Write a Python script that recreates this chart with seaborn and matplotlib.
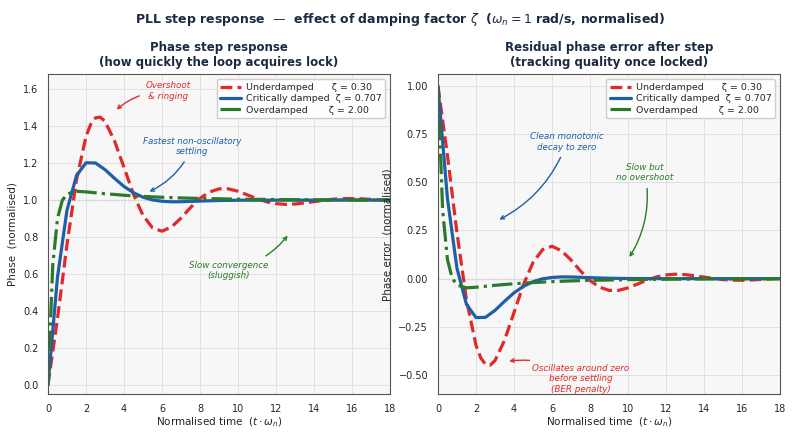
import numpy as np
import pandas as pd
import matplotlib
matplotlib.use("Agg")
import matplotlib.pyplot as plt
import seaborn as sns

# time grids
t_ud = [0,0.5,1,1.5,2,2.25,2.5,2.75,3,3.5,4,4.5,5,5.5,6,6.5,7,7.5,8,8.5,9,9.5,10,10.5,11,11.5,12,12.5,13,13.5,14,14.5,15,15.5,16,16.5,17,17.5,18]
err_ud = [1,0.640,0.239,-0.110,-0.345,-0.411,-0.445,-0.449,-0.426,-0.321,-0.177,-0.031,0.083,0.150,0.168,0.145,0.097,0.040,-0.010,-0.044,-0.061,-0.061,-0.048,-0.028,-0.008,0.009,0.019,0.023,0.021,0.015,0.008,0.001,-0.005,-0.008,-0.0085,-0.007,-0.004,-0.0015,0.001]
t_cd = [0,0.5,1,1.5,2,2.5,3,3.5,4,4.5,5,5.5,6,6.5,7,7.5,8,9,10,12,14,16,18]
err_cd = [1,0.416,0.054,-0.133,-0.202,-0.201,-0.165,-0.118,-0.074,-0.040,-0.016,-0.001,0.006,0.009,0.0086,0.0069,0.0049,0.002,0.0005,0,0,0,0]
t_od = [0,0.25,0.5,0.75,1,1.5,2,3,4,5,6,7,8,10,12,14,16,18]
err_od = [1,0.351,0.099,0.002,-0.0334,-0.0478,-0.0447,-0.0347,-0.0265,-0.0203,-0.0155,-0.0119,-0.0091,-0.0053,-0.0031,-0.0018,-0.0011,-0.0006]

labels = ["Underdamped      ζ = 0.30", "Critically damped  ζ = 0.707", "Overdamped       ζ = 2.00"]
colors = ["#e02a2a", "#1f5fa8", "#2a7a2a"]
styles = ["--", "-", "-."]
series = [(t_ud, err_ud), (t_cd, err_cd), (t_od, err_od)]

sns.set_theme(style="whitegrid")
plt.rcParams['font.family'] = ['DejaVu Sans']

fig, axes = plt.subplots(1, 2, figsize=(8, 4.38), dpi=100)
for ax in axes:
    ax.set_facecolor("#f7f7f7")
    ax.grid(color="#dddddd", lw=0.6)
    for s in ax.spines.values():
        s.set_color("#555555"); s.set_linewidth(0.8)

for (t, e), lab, c, ls in zip(series, labels, colors, styles):
    e = np.array(e)
    sns.lineplot(x=t, y=1 - e, ax=axes[0], color=c, ls=ls, lw=2.3, label=lab)
    sns.lineplot(x=t, y=e, ax=axes[1], color=c, ls=ls, lw=2.3, label=lab)

axes[0].axhline(1, color="#888888", ls=":", lw=0.9, zorder=0)
axes[1].axhline(0, color="#888888", ls=":", lw=0.9, zorder=0)

ax = axes[0]
ax.set_xlim(0, 18); ax.set_ylim(-0.05, 1.68)
ax.set_xticks(range(0, 19, 2)); ax.set_yticks(np.arange(0, 1.61, 0.2))
ax.set_title("Phase step response\n(how quickly the loop acquires lock)", fontsize=8.5, fontweight="bold", color="#1a2a40")
ax.set_ylabel("Phase  (normalised)", fontsize=7.5)
ax = axes[1]
ax.set_xlim(0, 18); ax.set_ylim(-0.6, 1.06)
ax.set_xticks(range(0, 19, 2)); ax.set_yticks(np.arange(-0.5, 1.01, 0.25))
ax.set_title("Residual phase error after step\n(tracking quality once locked)", fontsize=8.5, fontweight="bold", color="#1a2a40")
ax.set_ylabel("Phase error  (normalised)", fontsize=7.5)

for ax in axes:
    ax.set_xlabel(r"Normalised time  $(t\cdot\omega_n)$", fontsize=7.5, labelpad=1)
    ax.tick_params(labelsize=7, pad=1)
    ax.legend(loc="upper right", fontsize=6.8, frameon=True, framealpha=0.95, edgecolor="#cccccc",
              handlelength=2.2, borderpad=0.4, labelspacing=0.25, handletextpad=0.5)

def ann(ax, txt, xy, xyt, c, rad=0.2):
    ax.annotate(txt, xy=xy, xytext=xyt, fontsize=6.3, style="italic", color=c, ha="center", va="center",
                arrowprops=dict(arrowstyle="->", color=c, lw=1, connectionstyle=f"arc3,rad={rad}"))

ann(axes[0], "Overshoot\n& ringing", (3.5, 1.48), (6.3, 1.59), colors[0], 0.2)
ann(axes[0], "Fastest non-oscillatory\nsettling", (5.2, 1.04), (7.6, 1.29), colors[1], -0.2)
ann(axes[0], "Slow convergence\n(sluggish)", (12.7, 0.82), (9.5, 0.62), colors[2], 0.2)
ann(axes[1], "Clean monotonic\ndecay to zero", (3.1, 0.3), (6.8, 0.71), colors[1], -0.2)
ann(axes[1], "Slow but\nno overshoot", (10, 0.1), (10.9, 0.55), colors[2], -0.2)
ann(axes[1], "Oscillates around zero\nbefore settling\n(BER penalty)", (3.6, -0.43), (7.5, -0.52), colors[0], 0.2)

fig.suptitle(r"PLL step response  —  effect of damping factor $\zeta$  ($\omega_n = 1$ rad/s, normalised)",
             fontsize=9, fontweight="bold", color="#1a2a40", y=0.975)
fig.subplots_adjust(left=0.06, right=0.975, top=0.83, bottom=0.1, wspace=0.14)
fig.savefig("out.png", dpi=100)
